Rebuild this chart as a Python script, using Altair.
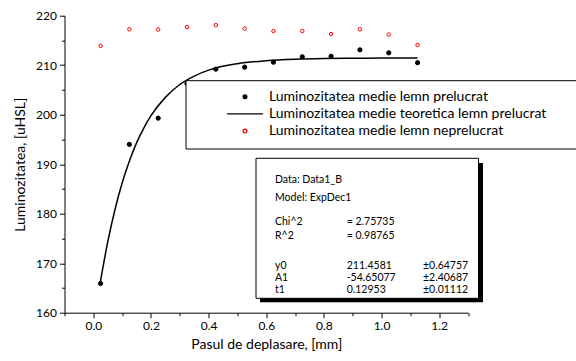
import altair as alt
import pandas as pd

# ---------------- data ----------------
x_vals = [0.025, 0.125, 0.225, 0.325, 0.425, 0.525, 0.625, 0.725, 0.825, 0.925, 1.025, 1.125]
y_prelucrat = [165.9, 194.0, 199.3, 206.3, 209.2, 209.6, 210.6, 211.7, 211.8, 213.1, 212.5, 210.5]
y_neprelucrat = [213.9, 217.25, 217.2, 217.7, 218.1, 217.4, 216.9, 216.9, 216.3, 217.25, 216.2, 214.1]

curve_x = [0.025, 0.05, 0.075, 0.1, 0.125, 0.15, 0.175, 0.2, 0.25, 0.3, 0.35, 0.4,
           0.5, 0.6, 0.7, 0.8, 0.9, 1.0, 1.125]
curve_y = [166.4, 174.3, 180.8, 186.2, 190.6, 194.3, 197.3, 199.8, 203.5, 206.1, 207.8, 209.0,
           210.3, 210.9, 211.2, 211.35, 211.4, 211.43, 211.45]

series_names = [
    "Luminozitatea medie lemn prelucrat",
    "Luminozitatea medie teoretica lemn prelucrat",
    "Luminozitatea medie lemn neprelucrat",
]

stats_col1 = ["Data: Data1_B", "Model: ExpDec1", "Chi^2", "R^2", "y0", "A1", "t1"]
stats_col2 = ["", "", "= 2.75735", "= 0.98765", "211.4581", "-54.65077", "0.12953"]
stats_col3 = ["", "", "", "", "\u00b10.64757", "\u00b12.40687", "\u00b10.01112"]

x_ticks = [round(-0.1 + 0.1 * i, 1) for i in range(15)]
y_ticks = [160 + 5 * i for i in range(13)]

x_title = "Pasul de deplasare, [mm]"
y_title = "Luminozitatea, [uHSL]"

# ---------------- layout ----------------
W, H = 403.5, 297
PAD = {"left": 64.5, "top": 15.7, "right": 576 - 64.5 - 403.5, "bottom": 361 - 15.7 - 297}
FONT = "Lato"

df_p = pd.DataFrame({"x": x_vals, "y": y_prelucrat, "series": series_names[0]})
df_n = pd.DataFrame({"x": x_vals, "y": y_neprelucrat, "series": series_names[2]})
df_c = pd.DataFrame({"x": curve_x, "y": curve_y})

xs = alt.Scale(domain=[-0.1, 1.3], nice=False, zero=False)
ys = alt.Scale(domain=[160, 220], nice=False, zero=False)

x_axis = alt.Axis(
    values=x_ticks, title=x_title, grid=False,
    labelExpr="abs(round(datum.value*10)) % 2 === 0 ? format(datum.value, '.1f') : ''",
    tickSize={"condition": {"test": "abs(round(datum.value*10)) % 2 === 0", "value": 5}, "value": 3},
    labelPadding=3, titlePadding=6,
)
y_axis = alt.Axis(
    values=y_ticks, title=y_title, grid=False,
    labelExpr="datum.value % 10 === 0 ? datum.value : ''",
    tickSize={"condition": {"test": "datum.value % 10 === 0", "value": 5}, "value": 3},
    labelPadding=3, titlePadding=8,
)

leg = alt.Legend(
    title=None, orient="none", legendX=173.5, legendY=74, padding=0,
    labelFont=FONT, labelFontSize=14, labelColor="black", labelOffset=17,
    labelLimit=500, rowPadding=3.2, symbolSize=14, symbolStrokeWidth=1.3,
)
color_enc = alt.Color("series:N", scale=alt.Scale(domain=series_names, range=["black", "black", "red"]), legend=leg)
fill_enc = alt.Fill("series:N", scale=alt.Scale(domain=series_names, range=["black", "transparent", "white"]), legend=leg)
shape_enc = alt.Shape("series:N", scale=alt.Scale(domain=series_names, range=["circle", "M-9.6,0H9.6", "circle"]), legend=leg)

X = alt.X("x:Q", scale=xs, axis=x_axis)
Y = alt.Y("y:Q", scale=ys, axis=y_axis)

curve = alt.Chart(df_c).mark_line(color="black", strokeWidth=1.5, interpolate="monotone").encode(x=X, y=Y)
pts_p = alt.Chart(df_p).mark_point(size=18, strokeWidth=1, opacity=1).encode(
    x=X, y=Y, color=color_enc, fill=fill_enc, shape=shape_enc)
pts_n = alt.Chart(df_n).mark_point(size=12, strokeWidth=1, opacity=1).encode(
    x=X, y=Y, color=color_enc, fill=fill_enc, shape=shape_enc)

one = alt.Data(values=[{}])

legend_box = alt.Chart(one).mark_rect(fill="white", stroke="black", strokeWidth=1).encode(
    x=alt.value(121.5), x2=alt.value(530), y=alt.value(65), y2=alt.value(133.3))
shadow = alt.Chart(one).mark_rect(fill="black").encode(
    x=alt.value(195.5), x2=alt.value(418.5), y=alt.value(147.3), y2=alt.value(286.6))
stats_box = alt.Chart(one).mark_rect(fill="white", stroke="black", strokeWidth=1).encode(
    x=alt.value(191.5), x2=alt.value(414), y=alt.value(142.6), y2=alt.value(282.6))

row_y = [164.3, 182.6, 206.6, 220.0, 250.0, 262.0, 274.0]
col_x = [210.5, 282.2, 358.5]
texts = []
for col, xpos in zip([stats_col1, stats_col2, stats_col3], col_x):
    for label, ypos in zip(col, row_y):
        if label:
            texts.append(
                alt.Chart(one).mark_text(align="left", baseline="middle", font=FONT,
                                         fontSize=10.5, color="black").encode(
                    x=alt.value(xpos), y=alt.value(ypos), text=alt.value(label)))

chart = alt.layer(curve, pts_p, pts_n, legend_box, shadow, stats_box, *texts).properties(
    width=W, height=H, padding=PAD, autosize=alt.AutoSizeParams(type="none"),
    background="white",
).configure_view(stroke=None).configure_axis(
    domainColor="black", domainWidth=1, tickColor="black", tickWidth=1,
    labelFont=FONT, labelFontSize=12, labelColor="black",
    titleFont=FONT, titleFontSize=14, titleFontWeight="normal", titleColor="black",
)

chart.save("out.html", embed_options={"renderer": "svg", "actions": False})
